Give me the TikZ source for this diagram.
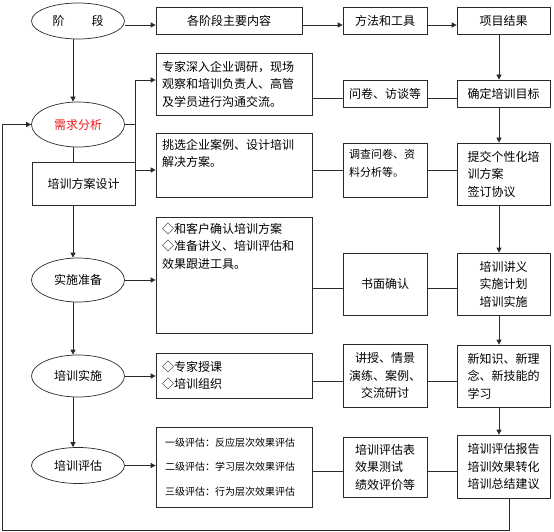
\documentclass[tikz,border=0pt]{standalone}
\usepackage{fontspec}
\usepackage{xcolor}
\usepackage{tikz}
\usetikzlibrary{
  arrows.meta,
  shapes.geometric,
  positioning,
  calc
}
\newfontfamily\cjk{Noto Sans CJK SC}
\definecolor{pxLine}{HTML}{2A2A2A}
\definecolor{pxRed}{HTML}{F01818}
\tikzset{
  pxnode/.style={
    draw=pxLine, line width=0.7pt, inner sep=6pt,
    font=\cjk\fontsize{12}{17.5}\selectfont
  },
  stagenode/.style={pxnode, ellipse, minimum width=93pt, minimum height=42pt, inner sep=0pt},
  pxbox/.style={pxnode, rectangle},
  headbox/.style={pxbox, minimum height=27pt},
  contentbox/.style={pxbox, text width=144pt, align=left},
  methodbox/.style={pxbox, minimum width=84pt, align=center},
  resultbox/.style={pxbox, minimum width=93pt, align=center},
  smalltext/.style={font=\cjk\fontsize{11}{18}\selectfont},
  tinytext/.style={font=\cjk\fontsize{10}{24.5}\selectfont},
  flow/.style={-{Triangle[length=5pt, width=5pt]}, draw=pxLine, line width=0.7pt},
  link/.style={draw=pxLine, line width=0.7pt}
}

\begin{document}
\begin{tikzpicture}[x=1pt, y=-1pt]
  \useasboundingbox (0,0) rectangle (554,532);

  % guide coordinates
  \coordinate (spine) at (73,0);
  \coordinate (rcol) at (499,0);
  \coordinate (row0) at (0,25);
  \coordinate (row1) at (0,98);
  \coordinate (row2) at (0,170);
  \coordinate (row3) at (0,288);
  \coordinate (row4) at (0,381);
  \coordinate (row5) at (0,471);
  \coordinate (forkU) at (135,80);
  \coordinate (forkD) at (135,170);
  \coordinate (backR) at (509,530);
  \coordinate (backL) at (2,530);

  % stages
  \node[stagenode, minimum height=36pt] (stage0) at (78,21) {阶\hspace{27pt}段};
  \node[stagenode, minimum height=45pt, text=pxRed] (stage1) at (78,124.5) {需求分析};
  \node[pxbox, minimum width=103pt, minimum height=43pt] (design) at (83.5,184) {培训方案设计};
  \node[stagenode, minimum height=44pt] (stage2) at (78,280) {实施准备};
  \node[stagenode] (stage3) at (78,376) {培训实施};
  \node[stagenode, minimum height=36pt] (stage4) at (78,465.5) {培训评估};

  % header row
  \node[headbox, minimum width=146pt] (head1) at (229,20.5) {各阶段主要内容};
  \node[headbox, minimum width=84pt] (head2) at (385,20.5) {方法和工具};
  \node[headbox, minimum width=93pt] (head3) at (503.5,20.5) {项目结果};

  % contents
  \node[contentbox, minimum height=62pt] (c1) at (234,84)
    {专家深入企业调研，现场\\观察和培训负责人、高管\\及学员进行沟通交流。};
  \node[contentbox] (c2) at (234,165)
    {\parbox[c][52pt][t]{144pt}{挑选企业案例、设计培训\\解决方案。}};
  \node[contentbox] (c3) at (234,275)
    {\parbox[c][104pt][t]{144pt}{◇和客户确认培训方案\\◇准备讲义、培训评估和\\效果跟进工具。}};
  \node[contentbox, minimum height=45pt] (c4) at (234,375.5)
    {◇专家授课\\◇培训组织};
  \node[contentbox, tinytext, minimum height=80pt] (c5) at (234,467)
    {\hspace{3pt}一级评估：反应层次效果评估\\\hspace{3pt}二级评估：学习层次效果评估\\\hspace{3pt}三级评估：行为层次效果评估};

  % methods
  \node[methodbox, minimum height=27pt] (m1) at (385,93.5) {问卷、访谈等};
  \node[methodbox, smalltext] (m2) at (385,170)
    {\parbox[c][42pt][t]{72pt}{调查问卷、资\\料分析等。}};
  \node[methodbox, minimum height=62pt] (m3) at (385,284) {书面确认};
  \node[methodbox, minimum height=63pt] (m4) at (385,375.5) {讲授、情景\\演练、案例、\\交流研讨};
  \node[methodbox, minimum height=60pt, align=left] (m5) at (385,467) {培训评估表\\效果测试\\绩效评价等};

  % results
  \node[resultbox, minimum height=27pt] (r1) at (503.5,93.5) {确定培训目标};
  \node[resultbox, minimum height=62pt, align=left] (r2) at (503.5,174) {提交个性化培\\训方案\\签订协议};
  \node[resultbox, minimum height=62pt] (r3) at (503.5,284) {培训讲义\\实施计划\\培训实施};
  \node[resultbox, minimum height=62pt, align=left] (r4) at (503.5,376) {新知识、新理\\念、新技能的\\学习};
  \node[resultbox, minimum height=63pt] (r5) at (503.5,466.5) {培训评估报告\\培训效果转化\\培训总结建议};

  % header arrows
  \draw[flow] (stage0.east |- row0) -- (head1.west |- row0);
  \draw[flow] (head1.east |- row0) -- (head2.west |- row0);
  \draw[flow] (head2.east |- row0) -- (head3.west |- row0);

  % stage column
  \draw[flow] (stage0.south -| spine) -- (stage1.north -| spine);
  \draw[link] (stage1.south -| spine) -- (design.north -| spine);
  \draw[flow] (design.south -| spine) -- (stage2.north -| spine);
  \draw[flow] (stage2.south -| spine) -- (stage3.north -| spine);
  \draw[flow] (stage3.south -| spine) -- (stage4.north -| spine);

  % stages to contents
  \draw[link] (stage1.east) -- (stage1.east -| forkU);
  \draw[flow] (forkD) -- (forkU) -- (c1.west |- forkU);
  \draw[flow] (forkD) -- (c2.west |- forkD);
  \draw[flow] (stage2.east) -- (c3.west |- stage2.east);
  \draw[flow] (stage3.east) -- (c4.west |- stage3.east);
  \draw[flow] (stage4.east) -- (c5.west |- stage4.east);

  % rows
  \draw[link] (c1.east |- row1) -- (m1.west |- row1) (m1.east |- row1) -- (r1.west |- row1);
  \draw[link] (c2.east |- row2) -- (m2.west |- row2) (m2.east |- row2) -- (r2.west |- row2);
  \draw[link] (c3.east |- row3) -- (m3.west |- row3) (m3.east |- row3) -- (r3.west |- row3);
  \draw[link] (c4.east |- row4) -- (m4.west |- row4) (m4.east |- row4) -- (r4.west |- row4);
  \draw[link] (c5.east |- row5) -- (m5.west |- row5) (m5.east |- row5) -- (r5.west |- row5);

  % result column
  \draw[flow] (head3.south -| rcol) -- (r1.north -| rcol);
  \draw[flow] (r1.south -| rcol) -- (r2.north -| rcol);
  \draw[flow] (r2.south -| rcol) -- (r3.north -| rcol);
  \draw[flow] (r3.south -| rcol) -- (r4.north -| rcol);
  \draw[flow] (r4.south -| rcol) -- (r5.north -| rcol);

  % feedback loop
  \draw[flow] (r5.south -| backR) -- (backR) -- (backL) |- (stage1.west);
\end{tikzpicture}
\end{document}
